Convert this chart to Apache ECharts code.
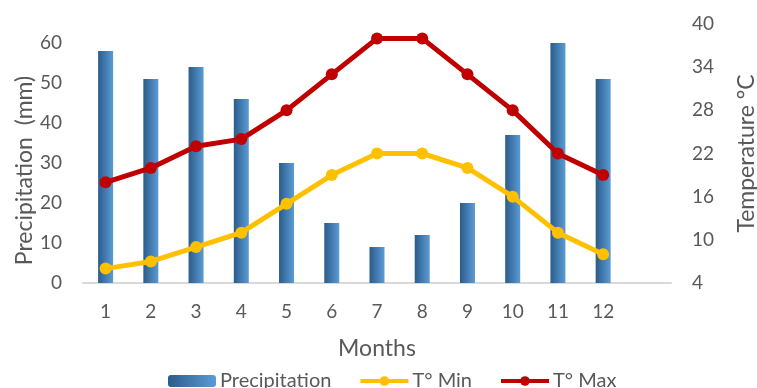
<!DOCTYPE html>
<html>
<head>
<meta charset="utf-8">
<script src="https://cdn.jsdelivr.net/npm/echarts@6/dist/echarts.min.js"></script>
<style>
  html, body { margin: 0; padding: 0; background: #ffffff; }
  #chart { width: 757px; height: 388px; }
</style>
</head>
<body>
<div id="chart"></div>
<script>
// Monthly climate: precipitation bars (left axis) and temperature lines (right axis)
const months = ['1', '2', '3', '4', '5', '6', '7', '8', '9', '10', '11', '12', ''];
const precipitation = [58, 51, 54, 46, 30, 15, 9, 12, 20, 37, 60, 51];
const tMin = [6, 7, 9, 11, 15, 19, 22, 22, 20, 16, 11, 8];
const tMax = [18, 20, 23, 24, 28, 33, 38, 38, 33, 28, 22, 19];
const precipTicks = [0, 10, 20, 30, 40, 50, 60];
const tempTicks = [4, 10, 16, 22, 28, 34, 40];

const FONT = 'Lato, "Open Sans", sans-serif';
const GREY = '#595959';

const chart = echarts.init(document.getElementById('chart'), null, { renderer: 'canvas' });

chart.setOption({
  animation: false,
  backgroundColor: '#ffffff',
  textStyle: { fontFamily: FONT },
  grid: {
    left: 83, right: 86, top: 24, bottom: 105,
    containLabel: false,
    outerBoundsMode: 'none'
  },
  legend: {
    top: 366,
    left: 163,
    itemGap: 27,
    itemWidth: 48,
    itemHeight: 12,
    lineStyle: { width: 4 },
    textStyle: { fontFamily: FONT, fontSize: 20, color: GREY, padding: [0, 0, 0, -1] },
    data: ['Precipitation', 'T° Min', 'T° Max']
  },
  xAxis: {
    type: 'category',
    data: months,
    name: 'Months',
    nameLocation: 'middle',
    nameGap: 54,
    nameMoveOverlap: false,
    nameTextStyle: { fontFamily: FONT, fontSize: 23, color: GREY },
    axisLine: { lineStyle: { color: '#d9d9d9', width: 2 } },
    axisTick: { show: false },
    axisLabel: { fontFamily: FONT, fontSize: 19, color: GREY, margin: 19 },
    splitLine: { show: false }
  },
  yAxis: [
    {
      type: 'value',
      min: 0,
      max: 64.75,
      name: 'Precipitation  (mm)',
      nameLocation: 'middle',
      nameGap: 47,
      nameMoveOverlap: false,
      nameTextStyle: { fontFamily: FONT, fontSize: 23, color: GREY, padding: [0, 34, 0, 0] },
      axisLine: { show: false },
      axisTick: { show: false },
      splitLine: { show: false },
      axisLabel: {
        customValues: precipTicks,
        fontFamily: FONT, fontSize: 19, color: GREY, margin: 21
      }
    },
    {
      type: 'value',
      min: 4,
      max: 40,
      position: 'right',
      name: 'Temperature °C',
      nameLocation: 'middle',
      nameGap: 64,
      nameMoveOverlap: false,
      nameTextStyle: { fontFamily: FONT, fontSize: 23, color: GREY },
      axisLine: { show: false },
      axisTick: { show: false },
      splitLine: { show: false },
      axisLabel: {
        customValues: tempTicks,
        fontFamily: FONT, fontSize: 19, color: GREY, margin: 21
      }
    }
  ],
  series: [
    {
      name: 'Precipitation',
      type: 'bar',
      yAxisIndex: 0,
      barWidth: 15,
      data: precipitation,
      itemStyle: {
        color: new echarts.graphic.LinearGradient(0, 0, 1, 0, [
          { offset: 0, color: '#2b5c8a' },
          { offset: 1, color: '#5b9bd5' }
        ])
      }
    },
    {
      name: 'T° Min',
      type: 'line',
      yAxisIndex: 1,
      data: tMin,
      symbol: 'circle',
      symbolSize: 12,
      lineStyle: { color: '#ffc000', width: 5 },
      itemStyle: { color: '#ffc000' },
      z: 3
    },
    {
      name: 'T° Max',
      type: 'line',
      yAxisIndex: 1,
      data: tMax,
      symbol: 'circle',
      symbolSize: 12,
      lineStyle: { color: '#c00000', width: 5 },
      itemStyle: { color: '#c00000' },
      z: 4
    }
  ]
});
</script>
</body>
</html>
